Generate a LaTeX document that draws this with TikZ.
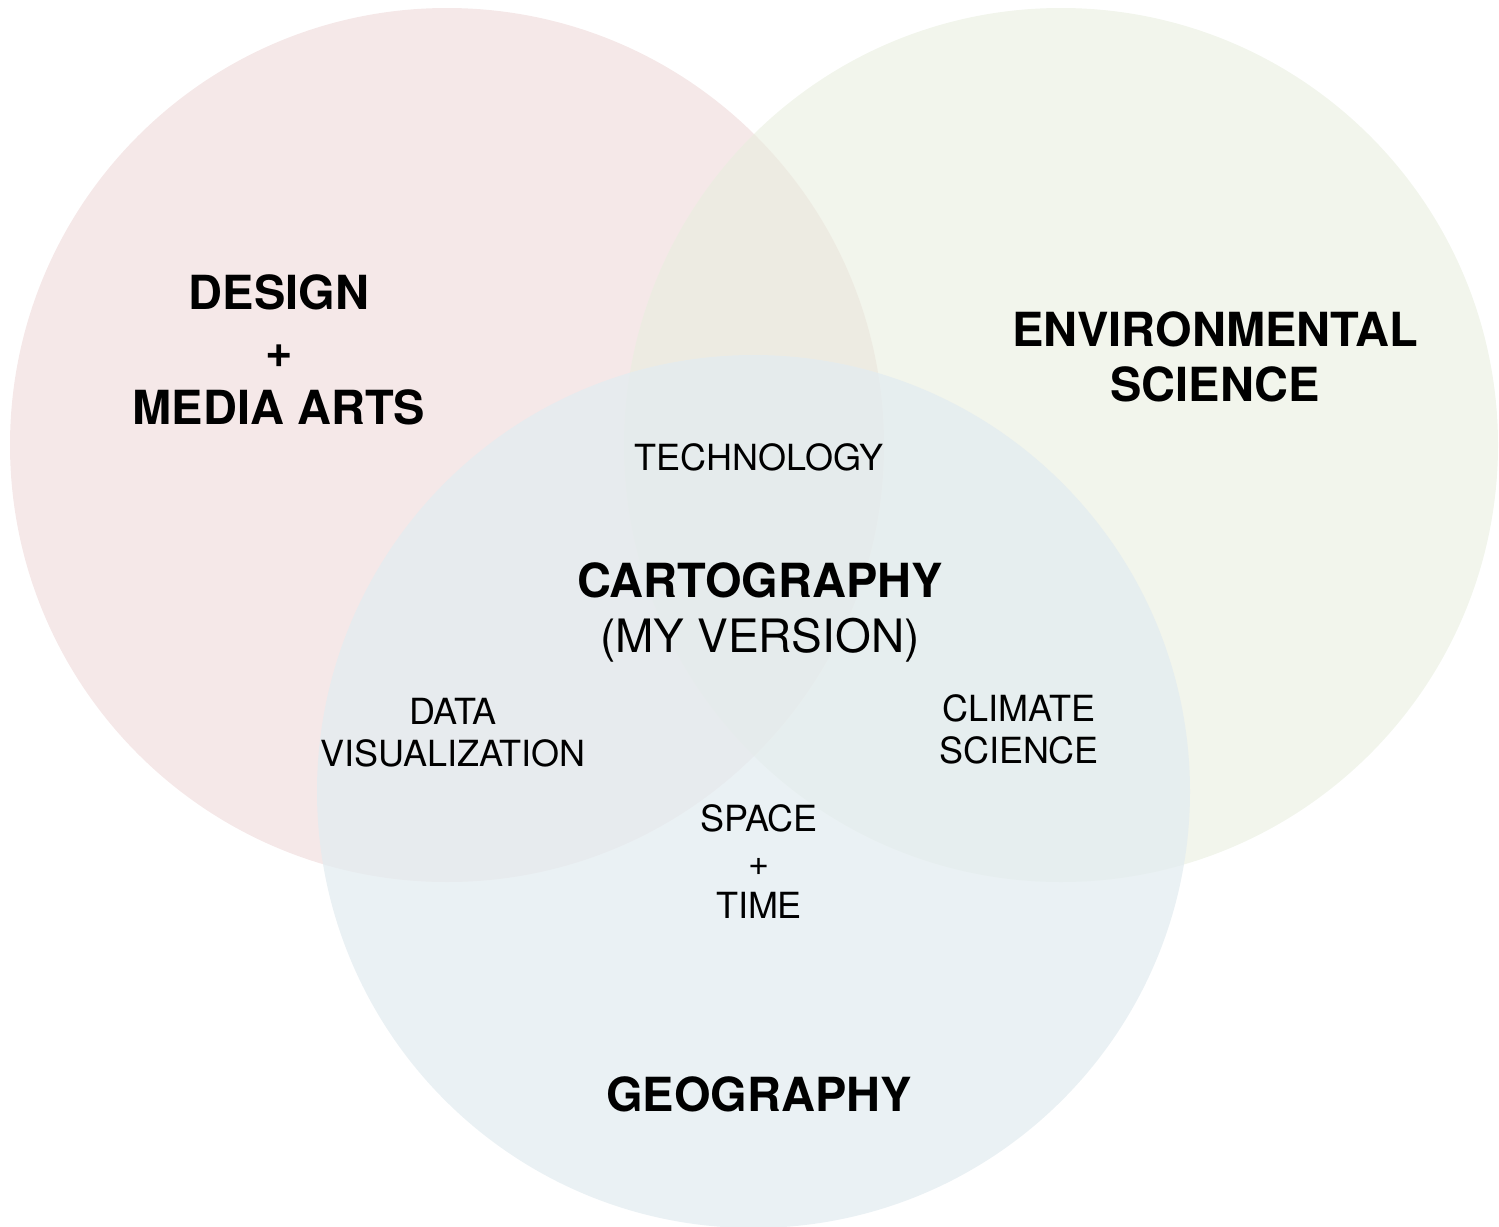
\documentclass[tikz,border=0pt]{standalone}
\usepackage{fontspec}
\setmainfont{TeX Gyre Heros}
\definecolor{design color}{HTML}{EBD1D1}
\definecolor{environment color}{HTML}{E9EEDF}
\definecolor{geography color}{HTML}{E3ECF0}
\tikzset{
    x={1pt},
    y={-1pt},
    field/.style={
        fill={#1},
        fill opacity=0.5,
        draw=none,
    },
    field label/.style={
        font={\bfseries\fontsize{47}{57.5}\selectfont},
        align=center,
        anchor=north,
        inner sep=0pt,
        outer sep=0pt,
    },
    topic label/.style={
        font={\fontsize{36}{42}\selectfont},
        align=center,
        anchor=north,
        inner sep=0pt,
        outer sep=0pt,
    },
}
\begin{document}
\begin{tikzpicture}
\useasboundingbox (0,0) rectangle (1499,1226);
% fields
\path[field={design color}] (447,445) circle[radius=437];
\path[field={environment color}, fill opacity=0.6] (1061,445) circle[radius=437];
\path[field={geography color}, fill opacity=0.75] (753.5,791.5) circle[radius=436.5];
% field names
\node[field label] (design) at (279,275) {DESIGN\\+\\MEDIA ARTS};
\node[field label, font={\bfseries\fontsize{47}{55}\selectfont}] (environment) at (1215,312) {ENVIRONMENTAL\\SCIENCE};
\node[field label] (geography) at (759,1077) {GEOGRAPHY};
\node[field label, font={\fontsize{47}{55}\selectfont}] (cartography) at (760,563) {\textbf{CARTOGRAPHY}\\{\fontsize{46}{55}\selectfont(MY VERSION)}};
% overlaps
\node[topic label] (technology) at (759,444) {TECHNOLOGY};
\node[topic label] (dataviz) at (453,698) {DATA\\VISUALIZATION};
\node[topic label] (climate) at (1019,695) {CLIMATE\\SCIENCE};
\node[topic label, font={\fontsize{36}{43.5}\selectfont}] (spacetime) at (759,805) {SPACE\\+\\TIME};
\end{tikzpicture}
\end{document}
